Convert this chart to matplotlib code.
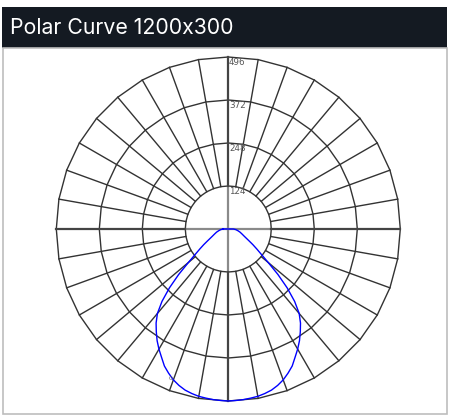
import numpy as np
import matplotlib
matplotlib.use("Agg")
import matplotlib.pyplot as plt
from matplotlib.patches import Rectangle

# ---- data ----
title = "Polar Curve 1200x300"
ring_values = [124, 248, 372, 496]
ring_labels = ["124", "248", "372", "496"]
spoke_angles_deg = list(range(0, 360, 10))
# gamma angle from nadir (deg) and intensity (cd), symmetric curve
gamma_deg = [0, 2.5, 5, 7.5, 10, 12.5, 15, 17.5, 20, 22.5, 25, 27.5, 30, 32.5, 35, 37.5,
             40, 42.5, 45, 47.5, 50, 52.5, 55, 57.5, 60, 65, 70, 75, 80, 85, 90]
intensity = [496, 495, 494, 492, 490, 486, 481, 473, 463, 450, 436, 417, 400, 382, 362, 342,
             318, 283, 240, 194, 150, 120, 100, 84, 70, 52, 42, 35, 28, 22, 15]

W, H = 449, 416
fig = plt.figure(figsize=(W / 100, H / 100), dpi=100)
fig.patch.set_facecolor("white")

# header bar
fig.patches.append(Rectangle((2 / W, 1 - 48 / H), 445 / W, 41 / H, transform=fig.transFigure,
                             facecolor="#141a22", edgecolor="none", zorder=0))
fig.text(10 / W, 1 - 28 / H, title, color="white", fontsize=15.3, family="Inter",
         ha="left", va="center")
# chart frame
fig.patches.append(Rectangle((2.5 / W, 1 - 414 / H), 444 / W, 366 / H, transform=fig.transFigure,
                             facecolor="none", edgecolor="#bdbdbd", lw=1.2, zorder=0))

cx, cy, R = 228.3, 229, 172
ax = fig.add_axes([(cx - R) / W, (H - cy - R) / H, 2 * R / W, 2 * R / H], projection="polar")
ax.set_theta_zero_location("S")
ax.set_theta_direction(1)
ax.set_rlim(0, max(ring_values))
ax.set_axis_off()

rmin, rmax = ring_values[0], ring_values[-1]
grid_col = "#333333"
# spokes
for a in spoke_angles_deg:
    t = np.deg2rad(a)
    if a % 90 == 0:
        continue
    ax.plot([t, t], [rmin, rmax], color=grid_col, lw=1.0, clip_on=False, zorder=2)
# polygonal rings
ring_theta = np.deg2rad(spoke_angles_deg + [360])
for v in ring_values:
    ax.plot(ring_theta, [v] * len(ring_theta), color=grid_col, lw=1.0, clip_on=False, zorder=2)
# main axes lines
for a in [0, 90, 180, 270]:
    t = np.deg2rad(a)
    ax.plot([t, t], [0, rmin], color="#8a8a8a", lw=1.6, clip_on=False, zorder=2)
    ax.plot([t, t], [rmin, rmax], color="#444444", lw=1.6, clip_on=False, zorder=2)

# ring labels
for v, lbl in zip(ring_values, ring_labels):
    ax.annotate(lbl, (np.pi, v), xytext=(0.5, -1), textcoords="offset points",
                ha="left", va="top", fontsize=6.3, color="#555555", zorder=4)

# curve (mirror about nadir, closed across the top)
g = np.array(gamma_deg, dtype=float)
I = np.array(intensity, dtype=float)
theta = np.deg2rad(np.concatenate([-g[::-1], g[1:], [-g[-1]]]))
rr = np.concatenate([I[::-1], I[1:], [I[-1]]])
ax.plot(theta, rr, color="#0000ff", lw=1.0, zorder=3, clip_on=False)

# small curve tag
ax.text(np.deg2rad(-21), 462, "0", fontsize=4.5, color="#666666", ha="center", va="center", zorder=4)

fig.savefig("out.png", dpi=100)
